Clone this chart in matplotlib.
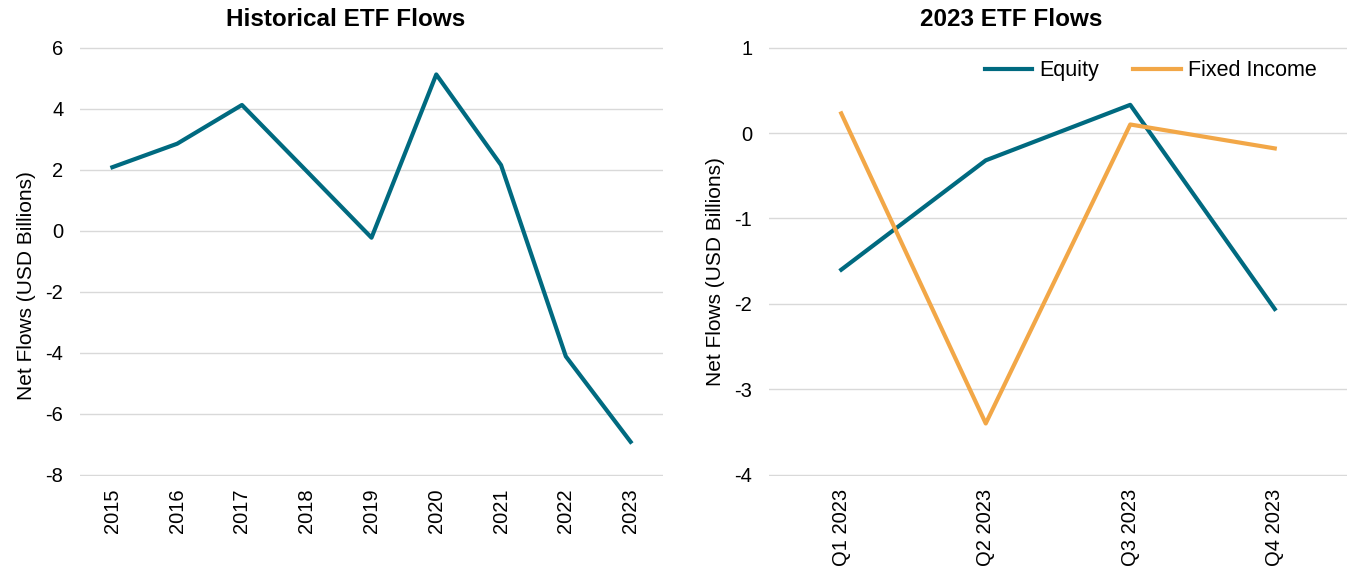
import matplotlib
matplotlib.use("Agg")
import matplotlib.pyplot as plt

# donnees
annees = ["2015", "2016", "2017", "2018", "2019", "2020", "2021", "2022", "2023"]
flux_hist = [2.08, 2.85, 4.12, 1.95, -0.23, 5.12, 2.15, -4.12, -6.92]

trimestres = ["Q1 2023", "Q2 2023", "Q3 2023", "Q4 2023"]
actions = [-1.60, -0.32, 0.33, -2.06]
obligations = [0.23, -3.40, 0.10, -0.18]

BLEU = "#006A80"
ORANGE = "#F2A747"
GRILLE = "#D9D9D9"

plt.rcParams['font.family'] = ['Liberation Sans', 'DejaVu Sans']
plt.rcParams['axes.unicode_minus'] = False

fig = plt.figure(figsize=(13.47, 5.73), dpi=100)
ax1 = fig.add_axes([80 / 1347, 1 - 476 / 573, 583 / 1347, 429 / 573])
ax2 = fig.add_axes([769 / 1347, 1 - 476 / 573, 578 / 1347, 429 / 573])


def habille(ax, titre, xt, yl):
    for s in ax.spines.values():
        s.set_visible(False)
    ax.grid(axis='y', color=GRILLE, linewidth=1)
    ax.set_axisbelow(True)
    ax.tick_params(length=0, labelsize=14.5)
    ax.tick_params(axis='y', pad=12)
    ax.tick_params(axis='x', rotation=90, pad=9)
    ax.set_title(titre, fontsize=17.5, fontweight='bold', pad=15, x=xt)
    ax.set_ylabel("Net Flows (USD Billions)", fontsize=15, labelpad=7)
    ax.yaxis.label.set_y(yl)   # titre d'axe centre sur la zone avec les etiquettes


# graphe de gauche
ax1.plot(range(len(annees)), flux_hist, color=BLEU, linewidth=3)
ax1.set_xticks(range(len(annees)))
ax1.set_xticklabels(annees)
ax1.set_xlim(-0.5, len(annees) - 0.5)
ax1.set_ylim(-8.04, 6.02)
ax1.set_yticks(range(-8, 7, 2))
habille(ax1, "Historical ETF Flows", 0.456, 0.443)

# graphe de droite
x = range(len(trimestres))
ax2.plot(x, actions, color=BLEU, linewidth=3, label="Equity")
ax2.plot(x, obligations, color=ORANGE, linewidth=3, label="Fixed Income")
ax2.set_xticks(list(x))
ax2.set_xticklabels(trimestres)
ax2.set_xlim(-0.5, len(trimestres) - 0.5)
ax2.set_ylim(-4.015, 1.007)
ax2.set_yticks(range(-4, 2))
habille(ax2, "2023 ETF Flows", 0.419, 0.476)
ax2.legend(loc='upper right', bbox_to_anchor=(0.981, 1.014), ncol=2, frameon=False,
           fontsize=15.5, handlelength=2.2, columnspacing=1.6, handletextpad=0.33)

fig.savefig("out.png", dpi=100)
